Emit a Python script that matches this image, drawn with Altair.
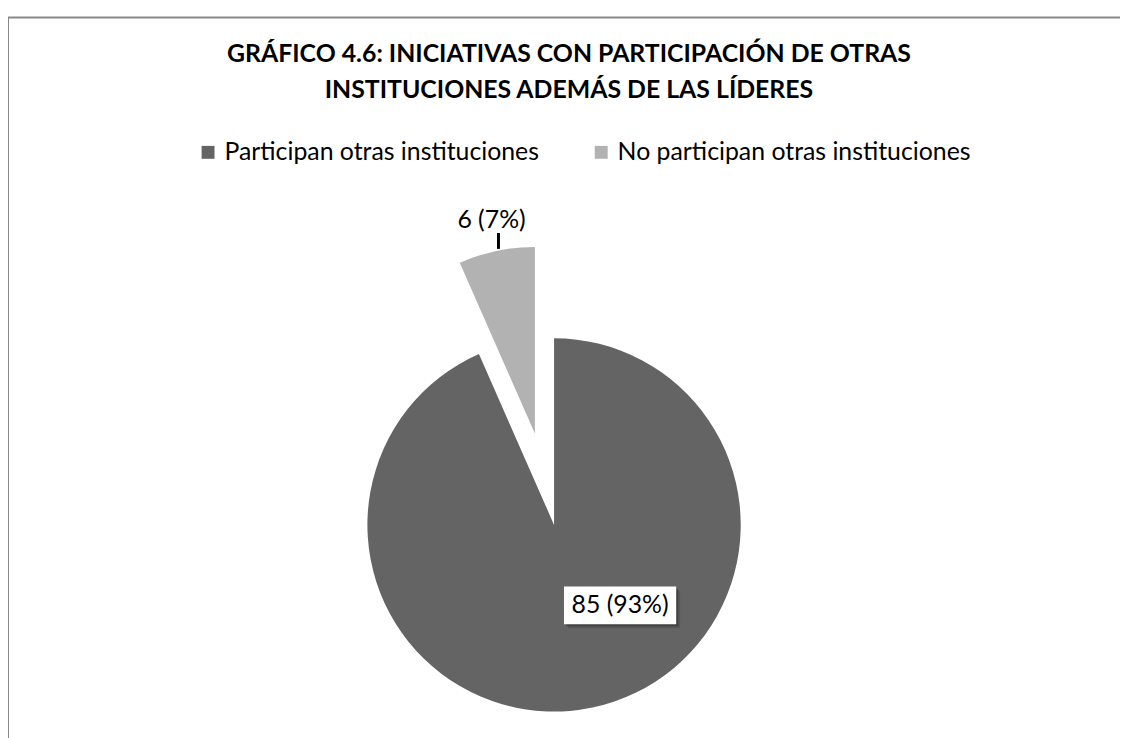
import math
import altair as alt
import pandas as pd

# ---- data ----
categories = ["Participan otras instituciones", "No participan otras instituciones"]
values = [85, 6]
labels = ["85 (93%)", "6 (7%)"]
colors = ["#646464", "#b2b2b2"]
title_lines = ["GRÁFICO 4.6: INICIATIVAS CON PARTICIPACIÓN DE OTRAS",
               "INSTITUCIONES ADEMÁS DE LAS LÍDERES"]

total = sum(values)
starts = [sum(values[:i]) for i in range(len(values))]
ends = [s + v for s, v in zip(starts, values)]
df = pd.DataFrame({"category": categories, "value": values,
                   "start": starts, "end": ends, "label": labels})
title_df = pd.DataFrame({"line": title_lines, "row": [0, 1]})

# ---- layout (pixels) ----
W, H = 1120, 730
CX, CY, R = 550, 518, 188
EXPLODE = 94
mid = (starts[1] + ends[1]) / 2 / total * 2 * math.pi
EX = CX + EXPLODE * math.sin(mid)
EY = CY - EXPLODE * math.cos(mid)

FONT = "Lato"
theta_scale = alt.Scale(domain=[0, total], range=[0, 2 * math.pi])
color_scale = alt.Scale(domain=categories, range=colors)
legend = alt.Legend(title=None, orient="none", legendX=189, legendY=130,
                    direction="horizontal", symbolType="square", symbolSize=169,
                    symbolStrokeWidth=0, labelFont=FONT, labelFontSize=25,
                    labelColor="black", labelLimit=0, labelOffset=4,
                    columnPadding=50, padding=0, offset=0)

base = alt.Chart(df)

frame = alt.Chart(title_df.head(1)).mark_rect(
    fillOpacity=0, stroke="#898989", strokeWidth=2
).encode(x=alt.value(0), x2=alt.value(1130), y=alt.value(7), y2=alt.value(745))

title = alt.Chart(title_df).mark_text(
    font=FONT, fontSize=25, fontWeight="bold", color="black", baseline="middle"
).encode(
    text="line:N",
    x=alt.value(565),
    y=alt.Y("row:Q", scale=alt.Scale(domain=[0, 1], range=[44, 80]), axis=None),
)

main = base.transform_filter(alt.datum.category == categories[0]).mark_arc(
    radius=R, stroke=None
).encode(
    theta=alt.Theta("start:Q", scale=theta_scale),
    theta2="end:Q",
    color=alt.Color("category:N", scale=color_scale, sort=categories, legend=legend),
    x=alt.value(CX), y=alt.value(CY),
)

small = base.transform_filter(alt.datum.category == categories[1]).mark_arc(
    radius=R, stroke=None
).encode(
    theta=alt.Theta("start:Q", scale=theta_scale),
    theta2="end:Q",
    color=alt.Color("category:N", scale=color_scale, sort=categories, legend=legend),
    x=alt.value(EX), y=alt.value(EY),
)

# label box for the big slice
box_x, box_x2, box_y, box_y2 = 560, 673, 580, 618
shadow2 = base.transform_filter(alt.datum.category == categories[0]).mark_rect(
    color="#000000", opacity=0.12
).encode(x=alt.value(box_x + 4), x2=alt.value(box_x2 + 4),
         y=alt.value(box_y + 4), y2=alt.value(box_y2 + 4))
shadow1 = base.transform_filter(alt.datum.category == categories[0]).mark_rect(
    color="#000000", opacity=0.25
).encode(x=alt.value(box_x + 2), x2=alt.value(box_x2 + 2),
         y=alt.value(box_y + 2), y2=alt.value(box_y2 + 2))
box = base.transform_filter(alt.datum.category == categories[0]).mark_rect(
    color="white"
).encode(x=alt.value(box_x), x2=alt.value(box_x2),
         y=alt.value(box_y), y2=alt.value(box_y2))

big_label = base.transform_filter(alt.datum.category == categories[0]).mark_text(
    font=FONT, fontSize=25, color="black", baseline="middle", align="center"
).encode(text="label:N", x=alt.value((box_x + box_x2) / 2),
         y=alt.value((box_y + box_y2) / 2))

small_label = base.transform_filter(alt.datum.category == categories[1]).mark_text(
    font=FONT, fontSize=25, color="black", baseline="middle", align="center"
).encode(text="label:N", x=alt.value(487), y=alt.value(211))

leader = base.transform_filter(alt.datum.category == categories[1]).mark_rule(
    color="black", strokeWidth=3
).encode(x=alt.value(494), y=alt.value(224), y2=alt.value(240))

chart = alt.layer(
    frame, title, main, small, shadow2, shadow1, box, big_label, small_label, leader
).properties(
    width=W, height=H, autosize="none", padding=0, background="white"
).configure_view(stroke=None)

chart.save("out.html", embed_options={"renderer": "svg", "actions": False})
